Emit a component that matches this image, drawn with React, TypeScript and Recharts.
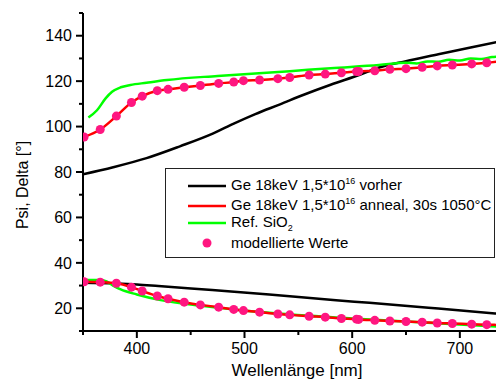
import React from 'react';
import { ComposedChart, Line, Scatter, XAxis, YAxis, Legend, Label } from 'recharts';

// Delta (upper curves)
const blackDeltaNm = [350, 378, 409, 440, 471, 490, 510, 533, 555, 580, 607, 625, 650, 680, 710, 741];
const blackDeltaVal = [79.0, 82.1, 86.1, 91.3, 97.0, 101.3, 105.5, 109.8, 114.0, 118.4, 122.8, 126.0, 128.8, 131.8, 134.8, 137.8];

const greenDeltaNm = [355, 363, 371, 377, 385, 394, 409, 428, 475, 542, 580, 625, 650, 660, 670, 680, 690, 700, 710, 720, 730, 741];
const greenDeltaVal = [104.0, 107.2, 112.4, 115.3, 117.3, 118.3, 119.3, 120.5, 122.3, 124.4, 125.7, 127.1, 128.1, 127.8, 128.7, 128.5, 129.4, 129.1, 130.0, 129.8, 130.6, 130.9];

// Psi (lower curves)
const blackPsiNm = [350, 380, 400, 420, 470, 523, 585, 616, 680, 741];
const blackPsiVal = [31.2, 30.9, 30.5, 29.8, 28.0, 26.1, 23.5, 22.4, 19.9, 17.4];

const greenPsiNm = [350, 365, 372, 378, 385, 400, 422, 462, 523, 600, 678, 741];
const greenPsiVal = [32.4, 32.4, 31.8, 30.0, 28.3, 26.1, 23.6, 21.0, 18.0, 15.5, 13.4, 11.8];

// Annealed sample (red, measured) and model values (dots), same wavelength grid
const annealNm = [351, 366, 381, 395, 405, 419, 429, 444, 459, 476, 490, 499, 514, 531, 542, 560, 575, 590, 604, 606, 621, 635, 650, 665, 679, 693, 711, 725, 739];
const redDeltaVal = [95.4, 98.7, 104.6, 110.6, 113.4, 115.8, 116.4, 117.3, 118.1, 119.0, 119.6, 120.2, 120.5, 121.1, 121.6, 122.7, 123.1, 123.7, 124.2, 124.3, 124.6, 125.2, 125.5, 126.1, 126.7, 127.1, 127.6, 128.1, 128.9];
const redPsiVal = [31.7, 31.5, 31.0, 29.3, 27.6, 25.4, 24.2, 22.7, 21.5, 20.5, 19.5, 19.0, 18.3, 17.5, 17.1, 16.5, 16.1, 15.5, 15.2, 15.1, 14.7, 14.4, 14.2, 13.9, 13.5, 13.3, 13.0, 12.8, 12.6];
const modelDeltaVal = [95.4, 98.7, 104.6, 110.6, 113.4, 115.8, 116.4, 117.3, 118.1, 119.0, 119.6, 120.2, 120.5, 121.1, 121.6, 122.7, 123.1, 123.7, 124.2, 124.3, 124.6, 125.2, 125.5, 126.1, 126.7, 127.1, 127.6, 128.1, 128.9];
const modelPsiVal = [31.7, 31.5, 31.0, 29.3, 27.6, 25.4, 24.2, 22.7, 21.5, 20.5, 19.5, 19.0, 18.3, 17.5, 17.1, 16.5, 16.1, 15.5, 15.2, 15.1, 14.7, 14.4, 14.2, 13.9, 13.5, 13.3, 13.0, 12.8, 12.6];

const xTicks = [350, 400, 450, 500, 550, 600, 650, 700];
const xMajor = [400, 500, 600, 700];
const yTicks = [10, 20, 30, 40, 50, 60, 70, 80, 90, 100, 110, 120, 130, 140, 150];
const yMajor = [20, 40, 60, 80, 100, 120, 140];

const legendLabels = ['Ge 18keV 1,5*10', 'Ge 18keV 1,5*10', 'Ref. SiO', 'modellierte Werte'];

const zip = (nm: number[], v: number[]) => nm.map((n, i) => ({ nm: n, v: v[i] }));

const FONT = '"Liberation Sans", Arial, sans-serif';
const BLACK = '#000000';
const RED = '#ff0000';
const GREEN = '#00ff00';
const PINK = '#ff1680';

const YTick = (props: any) => {
  const { x, y, payload } = props;
  const major = yMajor.includes(payload.value);
  return (
    <g>
      <line x1={x - (major ? 7 : 4)} x2={x} y1={y} y2={y} stroke="#000" strokeWidth={2} />
      {major && (
        <text x={x - 11} y={y} dy="0.36em" textAnchor="end" fontFamily={FONT} fontSize={16} fill="#000">
          {payload.value}
        </text>
      )}
    </g>
  );
};

const XTick = (props: any) => {
  const { x, y, payload } = props;
  const major = xMajor.includes(payload.value);
  return (
    <g>
      <line x1={x} x2={x} y1={y} y2={y + (major ? 7 : 4)} stroke="#000" strokeWidth={2} />
      {major && (
        <text x={x} y={y + 23} textAnchor="middle" fontFamily={FONT} fontSize={16} fill="#000">
          {payload.value}
        </text>
      )}
    </g>
  );
};

const LegendBox = () => {
  const rowStyle: React.CSSProperties = { position: 'absolute', left: 0, height: 20, width: 330, display: 'flex', alignItems: 'center' };
  const txt: React.CSSProperties = { position: 'absolute', left: 65, fontFamily: FONT, fontSize: 15, color: '#000', whiteSpace: 'nowrap', lineHeight: '20px' };
  const sup: React.CSSProperties = { fontSize: 9, position: 'relative', top: -6 };
  const sub: React.CSSProperties = { fontSize: 9, position: 'relative', top: 4 };
  const lineSvg = (c: string) => (
    <svg width={40} height={20} style={{ position: 'absolute', left: 22, top: 0 }}>
      <line x1={0} x2={38} y1={10} y2={10} stroke={c} strokeWidth={2.5} />
    </svg>
  );
  return (
    <div style={{ position: 'relative', width: 330, height: 90, border: '1px solid #222', background: '#fff', boxSizing: 'border-box' }}>
      <div style={{ ...rowStyle, top: 7 }}>
        {lineSvg(BLACK)}
        <span style={txt}>{legendLabels[0]}<span style={sup}>16</span> vorher</span>
      </div>
      <div style={{ ...rowStyle, top: 27 }}>
        {lineSvg(RED)}
        <span style={txt}>{legendLabels[1]}<span style={sup}>16</span> anneal, 30s 1050°C</span>
      </div>
      <div style={{ ...rowStyle, top: 44 }}>
        {lineSvg(GREEN)}
        <span style={txt}>{legendLabels[2]}<span style={sub}>2</span></span>
      </div>
      <div style={{ ...rowStyle, top: 64 }}>
        <svg width={40} height={20} style={{ position: 'absolute', left: 22, top: 0 }}>
          <circle cx={19} cy={10} r={4.5} fill={PINK} />
        </svg>
        <span style={txt}>{legendLabels[3]}</span>
      </div>
    </div>
  );
};

export default function App() {
  return (
    <div style={{ position: 'relative', width: 496, height: 373 }}>
      <ComposedChart width={496} height={373} margin={{ top: 5, right: 0, bottom: 0, left: 0 }}>
        <XAxis
          type="number"
          dataKey="nm"
          domain={[350, 741]}
          ticks={xTicks}
          interval={0}
          allowDataOverflow
          height={50}
          tickSize={0}
          tickMargin={0}
          tick={<XTick />}
          axisLine={{ stroke: '#000', strokeWidth: 2 }}
          tickLine={false}
        >
          <Label
            content={() => (
              <text x={289} y={368} textAnchor="middle" fontFamily={FONT} fontSize={17} fill="#000">
                Wellenlänge [nm]
              </text>
            )}
          />
        </XAxis>
        <YAxis
          type="number"
          domain={[10, 150]}
          ticks={yTicks}
          interval={0}
          allowDataOverflow
          width={75}
          tickSize={0}
          tickMargin={0}
          tick={<YTick />}
          axisLine={{ stroke: '#000', strokeWidth: 2 }}
          tickLine={false}
        >
          <Label
            content={() => (
              <text transform="translate(14,177) rotate(-90)" textAnchor="middle" dy="0.36em" fontFamily={FONT} fontSize={16} fill="#000">
                Psi, Delta [°]
              </text>
            )}
          />
        </YAxis>
        <Line data={zip(blackDeltaNm, blackDeltaVal)} dataKey="v" type="monotone" stroke={BLACK} strokeWidth={2.5} dot={false} isAnimationActive={false} />
        <Line data={zip(blackPsiNm, blackPsiVal)} dataKey="v" type="monotone" stroke={BLACK} strokeWidth={2.5} dot={false} isAnimationActive={false} legendType="none" />
        <Line data={zip(greenDeltaNm, greenDeltaVal)} dataKey="v" type="monotone" stroke={GREEN} strokeWidth={2.5} dot={false} isAnimationActive={false} />
        <Line data={zip(greenPsiNm, greenPsiVal)} dataKey="v" type="monotone" stroke={GREEN} strokeWidth={2.5} dot={false} isAnimationActive={false} legendType="none" />
        <Line data={zip(annealNm, redDeltaVal)} dataKey="v" type="monotone" stroke={RED} strokeWidth={2.5} dot={false} isAnimationActive={false} />
        <Line data={zip(annealNm, redPsiVal)} dataKey="v" type="monotone" stroke={RED} strokeWidth={2.5} dot={false} isAnimationActive={false} legendType="none" />
        <Scatter data={zip(annealNm, modelDeltaVal)} dataKey="v" fill={PINK} isAnimationActive={false} shape={(p: any) => <circle cx={p.cx} cy={p.cy} r={4.5} fill={PINK} />} />
        <Scatter data={zip(annealNm, modelPsiVal)} dataKey="v" fill={PINK} isAnimationActive={false} shape={(p: any) => <circle cx={p.cx} cy={p.cy} r={4.5} fill={PINK} />} />
        <Legend
          layout="vertical"
          align="center"
          verticalAlign="middle"
          content={() => <LegendBox />}
          wrapperStyle={{ left: 157, top: 160, width: 330, height: 90 }}
        />
      </ComposedChart>
    </div>
  );
}
